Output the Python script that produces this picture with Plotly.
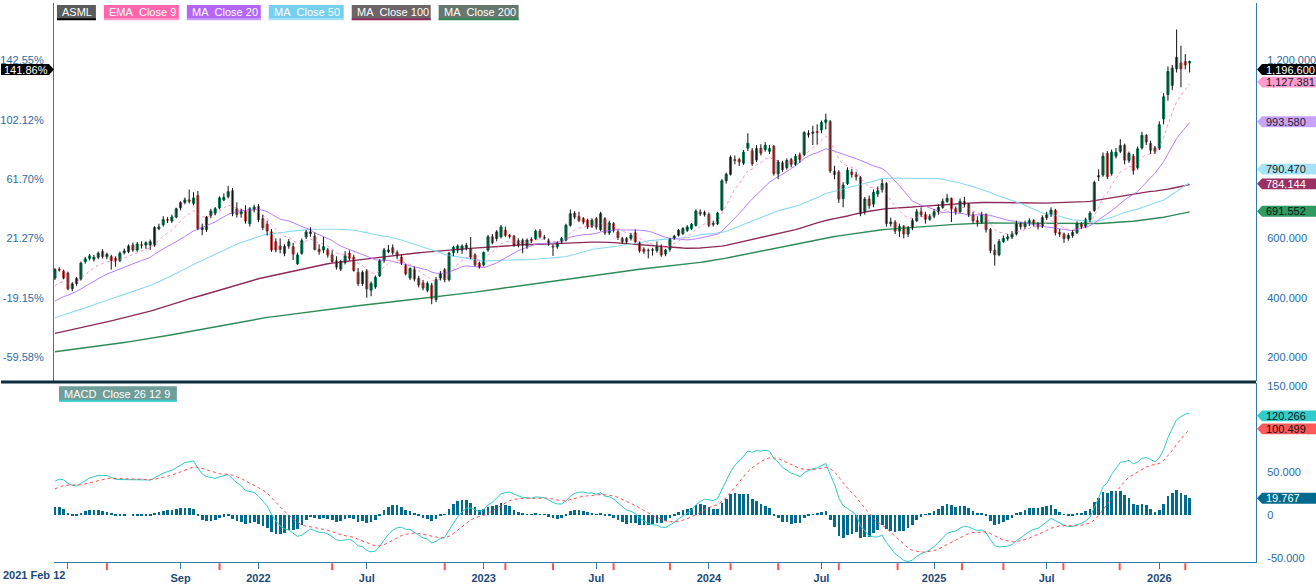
import numpy as np
import pandas as pd
import plotly.graph_objects as go

W, H = 1316, 584

# ---------------- data (weekly bars) ----------------
first_bar = "2021-02-12"

opens = [
    466.6, 496, 489, 483, 431, 447.7, 463.3, 522, 533, 530,
    536.6, 555.5, 538.8, 538.8, 533, 525.5, 552, 555.5, 577.7, 561,
    577.7, 577.7, 577.7, 577.7, 633, 646.6, 663.3, 658.8, 672.2, 703.3,
    722, 730, 718.8, 744.4, 630, 630, 677.7, 685.5, 703.3, 730,
    741, 761, 700, 683.3, 694.4, 650, 697.7, 707.7, 666.6, 647.7,
    622, 588.8, 574.4, 550, 574.4, 572.2, 514.4, 550, 605.5, 616.6,
    607.7, 563.3, 561, 561, 544.4, 524.4, 496.6, 518.8, 550, 536.6,
    485.5, 447.7, 488.8, 425.5, 436.6, 474.4, 525.5, 555.5, 568.8, 552.2,
    536.6, 507.7, 466.6, 494.4, 465.5, 450, 425.5, 441, 394.4, 466.6,
    494.4, 461, 552, 561, 561, 568.8, 565.5, 544.4, 516.6, 511,
    561, 605.5, 600, 605.5, 627.7, 610, 607.7, 592.2, 594.4, 574.4,
    596.6, 600, 624.4, 604, 592.2, 574, 572, 588.8, 594.4, 644.4,
    685.5, 674.4, 666.6, 661, 641, 666.6, 630, 666.6, 618.8, 650,
    622, 600, 600, 600, 618.8, 585.5, 563.3, 560, 561, 559,
    572.2, 547.7, 563.3, 600, 611, 616.6, 627.7, 633.3, 644.4, 688.8,
    687.7, 681, 648, 650, 696.6, 794.4, 816.6, 866, 866, 854,
    905, 896, 865, 904, 900, 894, 911, 818, 855, 839,
    866, 850, 882, 883, 955, 955, 960, 966, 992, 994,
    827, 824, 735, 785, 824, 815, 805, 692, 733, 716,
    750, 765, 785, 650, 655, 625, 640, 615, 635, 660,
    690, 680, 665, 675, 690, 705, 725, 735, 700, 690,
    725, 715, 680, 660, 655, 680, 630, 560, 545, 590,
    600, 605, 615, 650, 640, 650, 660, 650, 640, 670,
    680, 695, 620, 615, 600, 610, 620, 650, 640, 663,
    694.4, 808, 814, 886.6, 818.8, 877.7, 894, 914.4, 863.3, 877.7,
    838.8, 905.5, 947.7, 920, 905.5, 903.3, 1003.3, 1085.5, 1116.6, 1172.2,
    1192, 1196.6, 1192,
]

highs = [
    500, 503, 495, 488, 452, 470, 522, 538, 548, 545,
    556, 564, 552, 545, 540, 556, 566, 580, 586, 588,
    590, 590, 596, 641, 650, 675, 672, 680, 704, 725,
    738, 765, 756, 760, 650, 676, 700, 706, 742, 752,
    777, 770, 722, 700, 712, 706, 714, 716, 680, 660,
    632, 600, 600, 580, 598, 585, 552, 600, 628, 638,
    620, 580, 605, 568, 560, 540, 528, 557, 560, 545,
    500, 492, 496, 455, 475, 530, 568, 578, 580, 560,
    545, 515, 502, 505, 474, 460, 455, 450, 470, 490,
    500, 555, 575, 580, 580, 585, 605, 550, 522, 556,
    612, 615, 628, 645, 640, 615, 612, 600, 600, 600,
    604, 630, 632, 612, 600, 580, 590, 605, 650, 698,
    692, 690, 672, 667, 668, 672, 690, 672, 660, 655,
    628, 605, 605, 618, 630, 590, 570, 566, 568, 590,
    580, 565, 602, 612, 632, 638, 645, 652, 698, 698,
    694, 688, 660, 690, 800, 822, 880, 880, 872, 898,
    955, 905, 915, 918, 925, 915, 915, 865, 862, 870,
    872, 885, 890, 962, 965, 980, 985, 998, 1021, 1000,
    845, 830, 790, 840, 835, 825, 810, 740, 745, 765,
    775, 800, 790, 670, 662, 650, 645, 642, 668, 700,
    705, 690, 682, 698, 715, 735, 750, 738, 708, 735,
    740, 720, 690, 675, 690, 685, 635, 580, 598, 610,
    615, 625, 660, 655, 660, 668, 665, 655, 678, 690,
    705, 700, 632, 620, 618, 628, 658, 655, 670, 692,
    795, 833, 890, 895, 900, 905, 935, 920, 893, 885,
    910, 960, 952, 930, 912, 995, 1090, 1180, 1185, 1305,
    1250, 1222, 1200,
]

lows = [
    460, 488, 462, 425, 422, 440, 458, 515, 526, 522,
    530, 532, 530, 495, 505, 520, 546, 550, 555, 555,
    566, 565, 561, 572, 628, 640, 652, 652, 668, 695,
    715, 718, 712, 628, 611, 622, 668, 678, 698, 726,
    735, 675, 670, 670, 650, 640, 688, 655, 628, 610,
    555, 553, 550, 540, 565, 527, 511, 545, 598, 606,
    560, 545, 550, 535, 518, 495, 490, 512, 525, 488,
    440, 440, 400, 405, 430, 470, 518, 550, 545, 530,
    510, 475, 460, 455, 435, 425, 418, 378, 385, 458,
    452, 455, 540, 550, 548, 560, 530, 505, 498, 505,
    555, 580, 590, 600, 605, 600, 572, 570, 550, 565,
    585, 595, 600, 596, 575, 541, 565, 582, 590, 640,
    665, 655, 648, 632, 635, 630, 625, 612, 612, 620,
    595, 582, 582, 593, 585, 552, 548, 533, 542, 552,
    538, 540, 555, 595, 606, 612, 622, 628, 640, 676,
    674, 638, 640, 645, 692, 785, 812, 850, 845, 848,
    895, 845, 858, 880, 893, 885, 812, 800, 825, 832,
    840, 845, 855, 878, 940, 915, 917, 955, 968, 820,
    800, 720, 705, 780, 805, 795, 675, 680, 700, 705,
    740, 755, 640, 640, 615, 605, 600, 605, 628, 655,
    672, 650, 660, 668, 680, 700, 720, 655, 680, 685,
    705, 672, 650, 640, 650, 620, 550, 508, 540, 585,
    592, 598, 610, 630, 632, 642, 640, 630, 635, 662,
    672, 610, 605, 585, 592, 602, 615, 632, 635, 655,
    690, 794, 808, 800, 812, 870, 888, 850, 855, 815,
    832, 900, 915, 885, 885, 898, 985, 1065, 1100, 1160,
    1110, 1170, 1160,
]

closes = [
    494.75, 494, 466.6, 430, 446.6, 464.4, 516.6, 531, 541, 536.6,
    550, 538.8, 546.6, 525.5, 525.5, 550, 557.7, 574.4, 561, 581,
    577.7, 585.5, 588.8, 636.6, 638.8, 663.3, 662, 672.2, 700, 721,
    730, 725.5, 736.6, 633.3, 636.6, 672.2, 692.2, 700, 736.6, 738.8,
    757.7, 683.3, 681, 690, 658.8, 700, 705.5, 663.3, 636.6, 625.5,
    561, 561, 563.3, 572.2, 588.8, 547.7, 544.4, 592.2, 622, 622,
    563.3, 555.5, 572.2, 544.4, 522.2, 503.3, 522.2, 541, 533.3, 492.2,
    447.7, 485.5, 430, 447.7, 468.8, 525.5, 561, 561, 552.2, 541,
    518.8, 481, 498.8, 463.3, 443.3, 433.3, 447.7, 396.6, 461, 481,
    461, 550, 570, 574.4, 574.4, 576.6, 536.6, 511, 503.3, 552.2,
    605.5, 585.5, 622, 638.8, 611, 607.7, 577.7, 577.7, 577.7, 594.4,
    592.2, 624.4, 605.5, 602, 581, 572, 581, 600, 644.4, 683.3,
    672.2, 661, 655.5, 638.8, 661, 638.8, 683.3, 618.8, 652.2, 627.7,
    603.3, 588.8, 588.8, 611, 588.8, 558.8, 555.5, 559, 561, 572.2,
    544.4, 561, 598.8, 607.7, 627.7, 633.3, 638.8, 647.7, 692.2, 683.3,
    680, 644.4, 650, 685.5, 794.4, 816.6, 874, 863, 858, 891,
    921, 852, 903, 888, 914, 903, 819, 858, 832, 863,
    850, 877, 866, 957, 949, 958, 958, 991, 1000, 827.7,
    816, 733, 780, 830, 816, 808, 683, 733, 711, 755,
    761, 785, 650, 655, 625, 640, 615, 635, 660, 690,
    680, 665, 675, 690, 705, 725, 735, 700, 690, 725,
    715, 680, 660, 655, 680, 630, 560, 545, 590, 600,
    605, 615, 650, 640, 650, 660, 650, 640, 670, 680,
    695, 620, 615, 600, 610, 620, 650, 640, 663, 685.5,
    788.8, 811, 877.7, 808.8, 891, 891, 913.3, 864.4, 886.6, 830,
    902.2, 947.7, 925.5, 897.7, 894.4, 983.3, 1077.7, 1163.3, 1174.4, 1211,
    1172, 1185.5, 1196.6,
]

# weekly closes before the first visible bar (only feed the moving averages / MACD)
prior_closes = [
    114, 116, 117, 118, 119, 121, 123, 124, 124, 123, 121, 122, 127, 128, 130, 128,
    130, 131, 126, 124, 120, 114, 116, 120, 124, 128, 130, 128, 130, 132, 134, 133,
    137, 138, 144, 146, 148, 150, 156, 158, 157, 153, 152, 147, 146, 148, 146, 145,
    160, 167, 173, 175, 169, 161, 167, 170, 165, 172, 173, 163, 166, 162, 165, 167,
    165, 170, 175, 177, 179, 183, 187, 185, 179, 175, 180, 187, 189, 191, 193, 191,
    185, 187, 183, 173, 169, 171, 167, 160, 155, 157, 153, 160, 155, 153, 151, 155,
    148, 147, 141, 142,
    146, 149, 153, 158, 160, 160, 164, 168, 170, 170, 173, 174, 176, 182, 186, 194,
    197, 188, 180, 176, 174, 173, 180, 182, 188, 191, 198, 204, 208, 211, 206, 204,
    206, 204, 212, 220, 224, 230, 234, 236, 240, 248, 253, 252, 254, 256, 254, 258,
    260, 266, 272, 273,
    274, 282, 288, 284, 273, 284, 293, 298, 263, 260, 228, 218, 238, 236, 248, 270,
    268, 260, 273, 274, 283, 290, 308, 318, 326, 330, 336, 338, 334, 318, 310, 313,
    318, 323, 330, 318, 320, 326, 326, 328, 338, 336, 330, 320, 348, 353, 360, 366,
    378, 393, 403, 406,
    408, 425, 435, 445, 445, 470,
]

axis_tick_dates = ["2021-03-05", "2021-09-03", "2022-01-07", "2022-07-01", "2023-01-06",
                   "2023-07-07", "2024-01-05", "2024-07-05", "2025-01-03", "2025-07-04",
                   "2026-01-02"]
axis_tick_text = ["", "Sep", "2022", "Jul", "2023", "Jul", "2024", "Jul", "2025", "Jul", "2026"]
first_label = "2021 Feb 12"

event_dates = ["2021-05-07", "2021-11-05", "2022-05-06", "2022-11-04", "2023-02-10",
               "2023-04-28", "2023-08-04", "2023-11-03", "2024-02-09", "2024-04-26",
               "2024-08-02", "2024-11-05", "2025-02-17", "2025-04-25", "2025-07-31",
               "2025-10-30", "2026-02-13"]

percent_ticks = [200, 400, 600, 800, 1000, 1200]
price_ticks = [200, 400, 600, 1200]          # 800 / 1000 sit under the value tags
macd_ticks = [-50, 0, 50, 150]               # 100 sits under the signal tag

price_tags = [1196.600, 1127.381, 993.580, 790.470, 784.144, 691.552]
macd_tags = [120.266, 100.499, 19.767]

legend_names = ["ASML", "EMA  Close 9", "MA  Close 20", "MA  Close 50", "MA  Close 100", "MA  Close 200"]
macd_name = "MACD  Close 26 12 9"

assert len(opens) == len(highs) == len(lows) == len(closes)

# ---------------- indicators ----------------
n = len(closes)
dates = pd.date_range(first_bar, periods=n, freq="7D")
allc = pd.Series(prior_closes + closes, dtype=float)
ema9 = allc.ewm(span=9, adjust=False).mean().iloc[-n:].values
ma20 = allc.rolling(20).mean().iloc[-n:].values
ma50 = allc.rolling(50).mean().iloc[-n:].values
ma100 = allc.rolling(100).mean().iloc[-n:].values
ma200 = allc.rolling(200).mean().iloc[-n:].values
macd_s = allc.ewm(span=12, adjust=False).mean() - allc.ewm(span=26, adjust=False).mean()
sig_s = macd_s.ewm(span=9, adjust=False).mean()
macd = macd_s.iloc[-n:].values
sig = sig_s.iloc[-n:].values
hist = macd - sig

o = np.array(opens, float)
c = np.array(closes, float)
base = closes[0]

# ---------------- geometry / style ----------------
FONT = "Liberation Sans, Arial, sans-serif"
AXIS_BLUE = "#3479a8"
TICK_BLUE = "#2a6ca3"
X_LEFT, X_RIGHT = 53, 1256
MAIN_TOP, MAIN_BOT = 0, 383
MACD_TOP, MACD_BOT = 385, 566
main_range = [117.7, 1394.3]
macd_range = [-54.6, 153.4]
ppu_main = (MAIN_BOT - MAIN_TOP) / (main_range[1] - main_range[0])
ppu_macd = (MACD_BOT - MACD_TOP) / (macd_range[1] - macd_range[0])

def px(xp):
    return xp / W

def py(yp):
    return 1 - yp / H

start = pd.Timestamp(first_bar)
x_range = [start - pd.Timedelta(days=1.6), start + pd.Timedelta(days=1941.4)]

fig = go.Figure()

# wicks
wx, wy = [], []
for d, lo, hi in zip(dates, lows, highs):
    wx += [d, d, None]
    wy += [lo, hi, None]

line_specs = [
    (ma200, "#2e8b57", 1.4, "solid"),
    (ma100, "#8e2a5a", 1.4, "solid"),
    (ma50, "#8fd9f0", 1.1, "solid"),
    (ma20, "#b77dff", 1.0, "solid"),
    (ema9, "#ff8fc8", 1.0, "dot"),
]
for arr, col, wd, dash in line_specs:
    fig.add_trace(go.Scatter(x=dates, y=arr, mode="lines", xaxis="x", yaxis="y",
                             line=dict(color=col, width=wd, dash=dash), hoverinfo="skip"))

fig.add_trace(go.Scatter(x=wx, y=wy, mode="lines", xaxis="x", yaxis="y",
                         line=dict(color="#111111", width=1), hoverinfo="skip"))
fig.add_trace(go.Candlestick(
    x=dates, open=o, close=c, high=np.maximum(o, c), low=np.minimum(o, c),
    xaxis="x", yaxis="y", whiskerwidth=0,
    increasing=dict(fillcolor="#19ad7b", line=dict(color="#0f7a55", width=1)),
    decreasing=dict(fillcolor="#e57575", line=dict(color="#c05252", width=1)),
    hoverinfo="skip"))
# carrier for the percent axis
fig.add_trace(go.Scatter(x=dates, y=c, mode="lines", xaxis="x", yaxis="y2",
                         line=dict(color="rgba(0,0,0,0)", width=0), hoverinfo="skip"))

# MACD panel
fig.add_trace(go.Bar(x=dates, y=hist, xaxis="x2", yaxis="y3", marker=dict(color="#006b8c", line=dict(width=0)),
                     width=7 * 24 * 3600 * 1000 * 0.62, hoverinfo="skip"))
fig.add_trace(go.Scatter(x=dates, y=macd, mode="lines", xaxis="x2", yaxis="y3",
                         line=dict(color="#2ec9c9", width=1), hoverinfo="skip"))
fig.add_trace(go.Scatter(x=dates, y=sig, mode="lines", xaxis="x2", yaxis="y3",
                         line=dict(color="#ff4a4a", width=1, dash="dot"), hoverinfo="skip"))

tickfont = dict(family=FONT, size=11, color=TICK_BLUE)
fig.update_layout(
    width=W, height=H, margin=dict(l=0, r=0, t=0, b=0, pad=0),
    paper_bgcolor="white", plot_bgcolor="white", showlegend=False,
    bargap=0,
    xaxis=dict(domain=[px(X_LEFT), px(X_RIGHT)], range=x_range, anchor="y", showticklabels=False,
               showgrid=False, zeroline=False, showline=False, ticks="", rangeslider=dict(visible=False)),
    xaxis2=dict(domain=[px(X_LEFT), px(X_RIGHT)], range=x_range, anchor="y3", showgrid=False, zeroline=False,
                showline=True, linecolor=AXIS_BLUE, linewidth=1, ticks="outside", ticklen=6,
                tickcolor=AXIS_BLUE, tickwidth=1, tickmode="array", tickvals=axis_tick_dates,
                ticktext=["<b>%s</b>" % t if t else "" for t in axis_tick_text],
                tickfont=dict(family=FONT, size=11, color="#1c4a78")),
    yaxis=dict(domain=[py(MAIN_BOT), py(MAIN_TOP)], range=main_range, side="right", anchor="x",
               showgrid=False, zeroline=False, showline=True, linecolor=AXIS_BLUE, linewidth=1,
               ticks="", tickmode="array", tickvals=price_ticks,
               ticktext=[f"{v:,.3f}" for v in price_ticks], tickfont=tickfont, ticklabelstandoff=8),
    yaxis2=dict(range=main_range, overlaying="y", side="left", anchor="x", showgrid=False, zeroline=False,
                showline=True, linecolor=AXIS_BLUE, linewidth=1, ticks="", tickmode="array",
                tickvals=percent_ticks, ticktext=[f"{(v / base - 1) * 100:.2f}%" for v in percent_ticks],
                tickfont=tickfont, ticklabelstandoff=7),
    yaxis3=dict(domain=[py(MACD_BOT), py(MACD_TOP)], range=macd_range, side="right", anchor="x2",
                showgrid=False, zeroline=False, showline=True, linecolor=AXIS_BLUE, linewidth=1,
                ticks="", tickmode="array", tickvals=macd_ticks,
                ticktext=["0" if v == 0 else f"{v:,.3f}" for v in macd_ticks], tickfont=tickfont,
                ticklabelstandoff=8),
)

shapes = []
annotations = []

# panel separator
shapes.append(dict(type="line", xref="paper", yref="paper", x0=0, x1=px(X_RIGHT), y0=py(383.5), y1=py(383.5),
                   line=dict(color="#0f2d3d", width=3)))

# event markers under the time axis
for d in event_dates:
    shapes.append(dict(type="line", xref="x2", yref="paper", x0=d, x1=d, y0=py(MACD_BOT + 1), y1=py(MACD_BOT + 8),
                       line=dict(color="#ff5050", width=2)))

annotations.append(dict(text="<b>%s</b>" % first_label, xref="paper", yref="paper", x=0, y=py(579),
                        xanchor="left", yanchor="middle", showarrow=False,
                        font=dict(family=FONT, size=11, color="#1c4a78")))

# legend chips
chip_x = [(56, 95), (103, 178), (186, 260), (268, 343), (351, 430), (438, 518)]
chip_bg = ["#5b5b5b", "#ff66ad", "#b466f5", "#75cfee", "#6f6467", "#66776d"]
chip_ul = ["#000000", "#ff9ccc", "#c89cff", "#a8e4f6", "#8e2a5a", "#2e8b57"]
for (x0, x1), bg, ul, name in zip(chip_x, chip_bg, chip_ul, legend_names):
    shapes.append(dict(type="rect", xref="paper", yref="paper", x0=px(x0), x1=px(x1), y0=py(17), y1=py(2),
                       fillcolor=bg, line=dict(width=0)))
    shapes.append(dict(type="rect", xref="paper", yref="paper", x0=px(x0), x1=px(x1), y0=py(17.5), y1=py(15.5),
                       fillcolor=ul, line=dict(width=0)))
    annotations.append(dict(text=name.replace(" ", "&nbsp;"), xref="paper", yref="paper", x=px(x0 + 3),
                            y=py(9.5), xanchor="left", yanchor="middle", showarrow=False,
                            font=dict(family=FONT, size=11, color="white")))
shapes.append(dict(type="rect", xref="paper", yref="paper", x0=px(58), x1=px(176), y0=py(403), y1=py(388),
                   fillcolor="#6f9d98", line=dict(width=0)))
shapes.append(dict(type="rect", xref="paper", yref="paper", x0=px(58), x1=px(176), y0=py(403.5), y1=py(401.5),
                   fillcolor="#36c9c9", line=dict(width=0)))
annotations.append(dict(text=macd_name.replace(" ", "&nbsp;"), xref="paper", yref="paper", x=px(61), y=py(395.5),
                        xanchor="left", yanchor="middle", showarrow=False,
                        font=dict(family=FONT, size=11, color="white")))

# value tags on the right edge
def right_tag(yref, value, ppu, text, bg, fg, shift_px=0):
    yc = value - shift_px / ppu
    hh = 5.5 / ppu
    path = (f"M {px(1257)} {yc} L {px(1262)} {yc + hh} L {px(1316)} {yc + hh} "
            f"L {px(1316)} {yc - hh} L {px(1262)} {yc - hh} Z")
    shapes.append(dict(type="path", xref="paper", yref=yref, path=path, fillcolor=bg, line=dict(width=0)))
    annotations.append(dict(text=text, xref="paper", yref=yref, x=px(1263.5), y=yc, xanchor="left",
                            yanchor="middle", showarrow=False, font=dict(family=FONT, size=11, color=fg)))

tag_bg = ["#000000", "#ff9bcd", "#c9a2ff", "#a6e3f6", "#9a2f63", "#2f9a62"]
tag_fg = ["#ffffff", "#222222", "#222222", "#222222", "#ffffff", "#111111"]
tag_shift = [8, 0, 0, -13, 0, 0]
for v, bg, fg, sh in zip(price_tags, tag_bg, tag_fg, tag_shift):
    right_tag("y", v, ppu_main, f"{v:,.3f}", bg, fg, sh)

mtag_bg = ["#33cccc", "#ff5a5a", "#006b8c"]
mtag_fg = ["#111111", "#111111", "#ffffff"]
mtag_shift = [4, 0, 0]
for v, bg, fg, sh in zip(macd_tags, mtag_bg, mtag_fg, mtag_shift):
    right_tag("y3", v, ppu_macd, f"{v:,.3f}", bg, fg, sh)

# left tag (percent of last close)
pct_last = (price_tags[0] / base - 1) * 100
yc = price_tags[0] - 8 / ppu_main
hh = 5.5 / ppu_main
shapes.append(dict(type="path", xref="paper", yref="y",
                   path=f"M 0 {yc + hh} L {px(48)} {yc + hh} L {px(53)} {yc} L {px(48)} {yc - hh} L 0 {yc - hh} Z",
                   fillcolor="#000000", line=dict(width=0)))
annotations.append(dict(text=f"{pct_last:.2f}%", xref="paper", yref="y", x=px(1), y=yc, xanchor="left",
                        yanchor="middle", showarrow=False, font=dict(family=FONT, size=11, color="white")))

fig.update_layout(shapes=shapes, annotations=annotations)
fig.write_html("out.html", config={"displayModeBar": False},
               post_script="document.body.style.margin='0px';document.body.style.overflow='hidden';"
                           "document.documentElement.style.overflow='hidden';")
